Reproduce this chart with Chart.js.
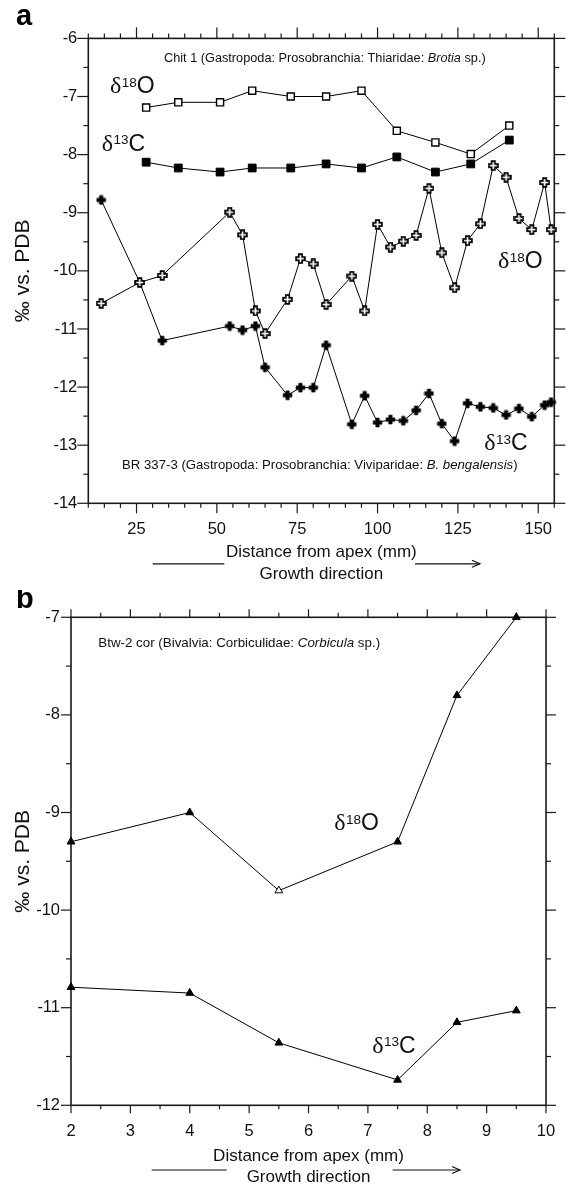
<!DOCTYPE html>
<html><head><meta charset="utf-8">
<script src="https://cdn.jsdelivr.net/npm/chart.js@4.4.0/dist/chart.umd.min.js"></script>
<style>
html,body{margin:0;padding:0;background:#fff;}
#wrapA{position:absolute;left:0;top:0;width:571px;height:590px;}
#wrapB{position:absolute;left:0;top:590px;width:571px;height:596px;}
canvas{display:block;}
</style></head><body>
<div id="wrapA"><canvas id="cA" width="571" height="590"></canvas></div>
<div id="wrapB"><canvas id="cB" width="571" height="596"></canvas></div>
<script>
// ---------- Panel a data ----------
const chitX   = [28, 38, 51, 61, 73, 84, 95, 106, 118, 129, 141];
const chitO18 = [-7.19, -7.10, -7.10, -6.90, -7.00, -7.00, -6.90, -7.59, -7.79, -7.99, -7.50];
const chitC13 = [-8.13, -8.23, -8.30, -8.23, -8.23, -8.16, -8.23, -8.04, -8.30, -8.16, -7.75];

const brX   = [14, 26, 33, 54, 58, 62, 65, 72, 76, 80, 84, 92, 96, 100, 104, 108, 112, 116, 120, 124, 128, 132, 136, 140, 144, 148, 152, 154];
const brO18 = [-10.56, -10.20, -10.08, -8.99, -9.38, -10.69, -11.08, -10.49, -9.79, -9.88, -10.58, -10.09, -10.69, -9.20, -9.59, -9.49, -9.39, -8.58, -9.69, -10.29, -9.48, -9.19, -8.19, -8.39, -9.10, -9.29, -8.48, -9.29];
const brC13 = [-8.78, -10.20, -11.20, -10.95, -11.02, -10.95, -11.66, -12.14, -12.01, -12.01, -11.28, -12.64, -12.15, -12.61, -12.56, -12.58, -12.40, -12.11, -12.63, -12.93, -12.28, -12.34, -12.36, -12.48, -12.37, -12.51, -12.31, -12.26];

const xTicksA = [25, 50, 75, 100, 125, 150];
const yTicksA = [-6, -7, -8, -9, -10, -11, -12, -13, -14];

// ---------- Panel b data ----------
const btwX   = [2, 4, 5.5, 7.5, 8.5, 9.5];
const btwO18 = [-9.30, -9.00, -9.80, -9.30, -7.80, -7.00];
const btwC13 = [-10.79, -10.85, -11.36, -11.74, -11.15, -11.03];

const xTicksB = [2, 3, 4, 5, 6, 7, 8, 9, 10];
const yTicksB = [-7, -8, -9, -10, -11, -12];

// ---------- helpers ----------
const FONT = '"Liberation Sans", Arial, Helvetica, sans-serif';
const SERIF = '"Liberation Serif", "Times New Roman", serif';
const INK = '#111';
Chart.defaults.font.family = FONT;
Chart.defaults.color = INK;

const pts = (xs, ys) => xs.map((x, i) => ({x: x, y: ys[i]}));

function plusImage(filled) {
  const c = document.createElement('canvas');
  c.width = 11; c.height = 11;
  const g = c.getContext('2d');
  const m = 5.5, L = 4.4, W = 1.7;
  g.beginPath();
  g.moveTo(m - W, m - L); g.lineTo(m + W, m - L); g.lineTo(m + W, m - W); g.lineTo(m + L, m - W);
  g.lineTo(m + L, m + W); g.lineTo(m + W, m + W); g.lineTo(m + W, m + L); g.lineTo(m - W, m + L);
  g.lineTo(m - W, m + W); g.lineTo(m - L, m + W); g.lineTo(m - L, m - W); g.lineTo(m - W, m - W);
  g.closePath();
  if (filled) { g.fillStyle = '#000'; g.fill(); g.lineWidth = 0.6; g.strokeStyle = '#000'; g.stroke(); }
  else { g.fillStyle = '#fff'; g.fill(); g.lineWidth = 1.7; g.strokeStyle = '#000'; g.stroke(); }
  return c;
}
const plusFilled = plusImage(true);
const plusOpen = plusImage(false);

function isMult(v, m) { const r = v / m; return Math.abs(r - Math.round(r)) < 1e-6; }

function frameTicks(id, o) {
  return {
    id: id,
    beforeDatasetsDraw(chart) {
      const {ctx, chartArea: a, scales: {x, y}} = chart;
      ctx.save();
      ctx.strokeStyle = '#1a1a1a';
      ctx.lineWidth = 1.2;
      const seg = (x1, y1, x2, y2) => { ctx.beginPath(); ctx.moveTo(x1, y1); ctx.lineTo(x2, y2); ctx.stroke(); };
      for (let v = x.min; v <= x.max + 1e-9; v += o.xStep) {
        const px = x.getPixelForValue(v);
        const maj = isMult(v, o.xMajor);
        seg(px, a.top, px, a.top - (maj ? o.topMaj : o.topMin));
        seg(px, a.bottom, px, a.bottom + (maj ? o.botMaj : o.botMin));
      }
      for (let v = y.min; v <= y.max + 1e-9; v += o.yStep) {
        const py = y.getPixelForValue(v);
        const maj = isMult(v, 1);
        seg(a.left, py, a.left - (maj ? o.sideMaj : o.sideMin), py);
        seg(a.right, py, a.right + (maj ? o.sideMaj : o.sideMin), py);
      }
      ctx.lineWidth = 1.6;
      ctx.strokeRect(a.left, a.top, a.right - a.left, a.bottom - a.top);
      ctx.restore();
    }
  };
}

function fitText(ctx, segs, x, base, width) {
  const meas = s => { let w = 0; for (const g of segs) { ctx.font = (g.i ? 'italic ' : '') + s + 'px ' + FONT; w += ctx.measureText(g.t).width; } return w; };
  const size = 12 * width / meas(12);
  let cx = x;
  ctx.fillStyle = INK; ctx.textAlign = 'left'; ctx.textBaseline = 'alphabetic';
  for (const g of segs) {
    ctx.font = (g.i ? 'italic ' : '') + size + 'px ' + FONT;
    ctx.fillText(g.t, cx, base);
    cx += ctx.measureText(g.t).width;
  }
}

function deltaLabel(ctx, x, base, mass, el) {
  ctx.fillStyle = INK; ctx.textAlign = 'left'; ctx.textBaseline = 'alphabetic';
  ctx.font = '24px ' + SERIF; ctx.fillText('δ', x, base); x += ctx.measureText('δ').width + 0.5;
  ctx.font = '13.5px ' + FONT; ctx.fillText(mass, x, base - 6.5); x += ctx.measureText(mass).width;
  ctx.font = '23px ' + FONT; ctx.fillText(el, x, base);
}

function panelLetter(ctx, t, x, base) {
  ctx.fillStyle = '#000'; ctx.textAlign = 'left'; ctx.textBaseline = 'alphabetic';
  ctx.font = 'bold 29px ' + FONT; ctx.fillText(t, x, base);
}

function growthArrow(ctx, l1, l2, r1, r2, yy) {
  ctx.save();
  ctx.strokeStyle = '#111'; ctx.lineWidth = 1.2;
  ctx.beginPath(); ctx.moveTo(l1, yy); ctx.lineTo(l2, yy); ctx.stroke();
  ctx.beginPath(); ctx.moveTo(r1, yy); ctx.lineTo(r2, yy); ctx.stroke();
  ctx.beginPath(); ctx.moveTo(r2 - 8, yy - 3.5); ctx.lineTo(r2, yy); ctx.lineTo(r2 - 8, yy + 3.5); ctx.stroke();
  ctx.restore();
}

function axisOpts(min, max, ticksArr, fixSize, isX, title, titlePad, lineH) {
  return {
    type: 'linear', min: min, max: max,
    afterBuildTicks: s => { s.ticks = ticksArr.map(v => ({value: v})); },
    afterFit: s => { if (isX) s.height = fixSize; else s.width = fixSize; },
    grid: {display: false, drawTicks: false, tickLength: 0},
    border: {display: false},
    ticks: {
      padding: isX ? 15.8 : 11, color: INK, autoSkip: false, maxRotation: 0,
      font: {family: FONT, size: 16.5},
      callback: v => String(v)
    },
    title: {
      display: true, text: title, color: INK,
      font: {family: FONT, size: isX ? 17 : 21, lineHeight: lineH},
      padding: titlePad
    }
  };
}

const common = {
  responsive: false, animation: false, devicePixelRatio: 1,
  plugins: {legend: {display: false}, tooltip: {enabled: false}}
};

// ---------- Panel a ----------
new Chart(document.getElementById('cA'), {
  type: 'scatter',
  data: {
    datasets: [
      {label: 'Chit 1 δ18O', data: pts(chitX, chitO18), showLine: true, borderColor: '#000', borderWidth: 1,
       pointStyle: 'rect', pointRadius: 5, pointBackgroundColor: '#fff', pointBorderColor: '#000', pointBorderWidth: 1.4, clip: false},
      {label: 'Chit 1 δ13C', data: pts(chitX, chitC13), showLine: true, borderColor: '#000', borderWidth: 1,
       pointStyle: 'rect', pointRadius: 5.5, pointBackgroundColor: '#000', pointBorderColor: '#000', pointBorderWidth: 1, clip: false},
      {label: 'BR 337-3 δ18O', data: pts(brX, brO18), showLine: true, borderColor: '#000', borderWidth: 1,
       pointStyle: plusOpen, pointRadius: 5, clip: false},
      {label: 'BR 337-3 δ13C', data: pts(brX, brC13), showLine: true, borderColor: '#000', borderWidth: 1,
       pointStyle: plusFilled, pointRadius: 5, clip: false}
    ]
  },
  options: Object.assign({}, common, {
    layout: {padding: {left: 0, right: 16.7, top: 38.4, bottom: 0}},
    scales: {
      x: axisOpts(10, 155, xTicksA, 86.7, true, ['Distance from apex (mm)', 'Growth direction'], {top: 0, bottom: 4.5}, 22 / 17),
      y: axisOpts(-14, -6, yTicksA, 88.3, false, '‰ vs. PDB', {top: 10.7, bottom: 0}, 1.2)
    }
  }),
  plugins: [
    frameTicks('frameA', {xStep: 5, xMajor: 25, yStep: 0.5, topMaj: 11, topMin: 5, botMaj: 10, botMin: 4.5, sideMaj: 11, sideMin: 5}),
    {
      id: 'annA',
      afterDatasetsDraw(chart) {
        const ctx = chart.ctx;
        ctx.save();
        panelLetter(ctx, 'a', 16, 25);
        fitText(ctx, [{t: 'Chit 1 (Gastropoda: Prosobranchia: Thiaridae: '}, {t: 'Brotia', i: true}, {t: ' sp.)'}], 164, 62, 322);
        fitText(ctx, [{t: 'BR 337-3 (Gastropoda: Prosobranchia: Viviparidae: '}, {t: 'B. bengalensis', i: true}, {t: ')'}], 122, 468.5, 396);
        deltaLabel(ctx, 110, 93.3, '18', 'O');
        deltaLabel(ctx, 101.7, 150.7, '13', 'C');
        deltaLabel(ctx, 498, 268.3, '18', 'O');
        deltaLabel(ctx, 484.3, 450, '13', 'C');
        growthArrow(ctx, 152.7, 224.3, 415, 480, 563.8);
        ctx.restore();
      }
    }
  ]
});

// ---------- Panel b ----------
new Chart(document.getElementById('cB'), {
  type: 'scatter',
  data: {
    datasets: [
      {label: 'Btw-2 cor δ18O', data: pts(btwX, btwO18), showLine: true, borderColor: '#000', borderWidth: 1,
       pointStyle: 'triangle', pointRadius: 4.5,
       pointBackgroundColor: ['#000', '#000', '#fff', '#000', '#000', '#000'], pointBorderColor: '#000', pointBorderWidth: 1, clip: false},
      {label: 'Btw-2 cor δ13C', data: pts(btwX, btwC13), showLine: true, borderColor: '#000', borderWidth: 1,
       pointStyle: 'triangle', pointRadius: 4.5, pointBackgroundColor: '#000', pointBorderColor: '#000', pointBorderWidth: 1, clip: false}
    ]
  },
  options: Object.assign({}, common, {
    layout: {padding: {left: 0, right: 10.3, top: 27.3, bottom: 0}},
    scales: {
      x: axisOpts(2, 10, xTicksB, 80.7, true, ['Distance from apex (mm)', 'Growth direction'], {top: 0, bottom: -2.2}, 21 / 17),
      y: axisOpts(-12, -7, yTicksB, 71, false, '‰ vs. PDB', {top: 10.4, bottom: 0}, 1.2)
    }
  }),
  plugins: [
    frameTicks('frameB', {xStep: 0.5, xMajor: 1, yStep: 0.5, topMaj: 8, topMin: 4.5, botMaj: 8, botMin: 4, sideMaj: 10, sideMin: 5}),
    {
      id: 'annB',
      afterDatasetsDraw(chart) {
        const ctx = chart.ctx;
        ctx.save();
        panelLetter(ctx, 'b', 16, 18);
        fitText(ctx, [{t: 'Btw-2 cor (Bivalvia: Corbiculidae: '}, {t: 'Corbicula', i: true}, {t: ' sp.)'}], 98.3, 56.5, 282);
        deltaLabel(ctx, 334.3, 240, '18', 'O');
        deltaLabel(ctx, 372.2, 462.7, '13', 'C');
        growthArrow(ctx, 151.7, 226.7, 392.7, 460, 580);
        ctx.restore();
      }
    }
  ]
});
</script>
</body></html>
